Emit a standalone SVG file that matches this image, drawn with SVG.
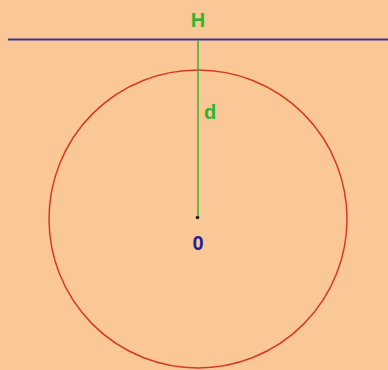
<svg xmlns="http://www.w3.org/2000/svg" width="388" height="370" viewBox="0 0 388 370">
<style>
.t{font-family:"Liberation Sans",Arial,sans-serif;font-weight:bold;font-size:20px;text-anchor:middle}
</style>
<rect width="388" height="370" fill="#fac896"/>
<g id="circle"><circle cx="198" cy="219" r="149" fill="none" stroke="#d93a1e" stroke-width="1.5"/></g>
<g id="lineH"><line x1="8" y1="39.5" x2="388" y2="39.5" stroke="#3b3496" stroke-width="2"/></g>
<g id="connectors"><line x1="198" y1="40" x2="198" y2="217" stroke="#3cb032" stroke-width="1.5"/></g>
<g id="center"><circle cx="197.5" cy="217.5" r="1.8" fill="#222"/></g>
<text class="t" x="198" y="27" fill="#2eb52e">H</text>
<text class="t" x="210" y="119" fill="#2eb52e">d</text>
<text class="t" x="198" y="250" fill="#2a1a9a">0</text>
</svg>
